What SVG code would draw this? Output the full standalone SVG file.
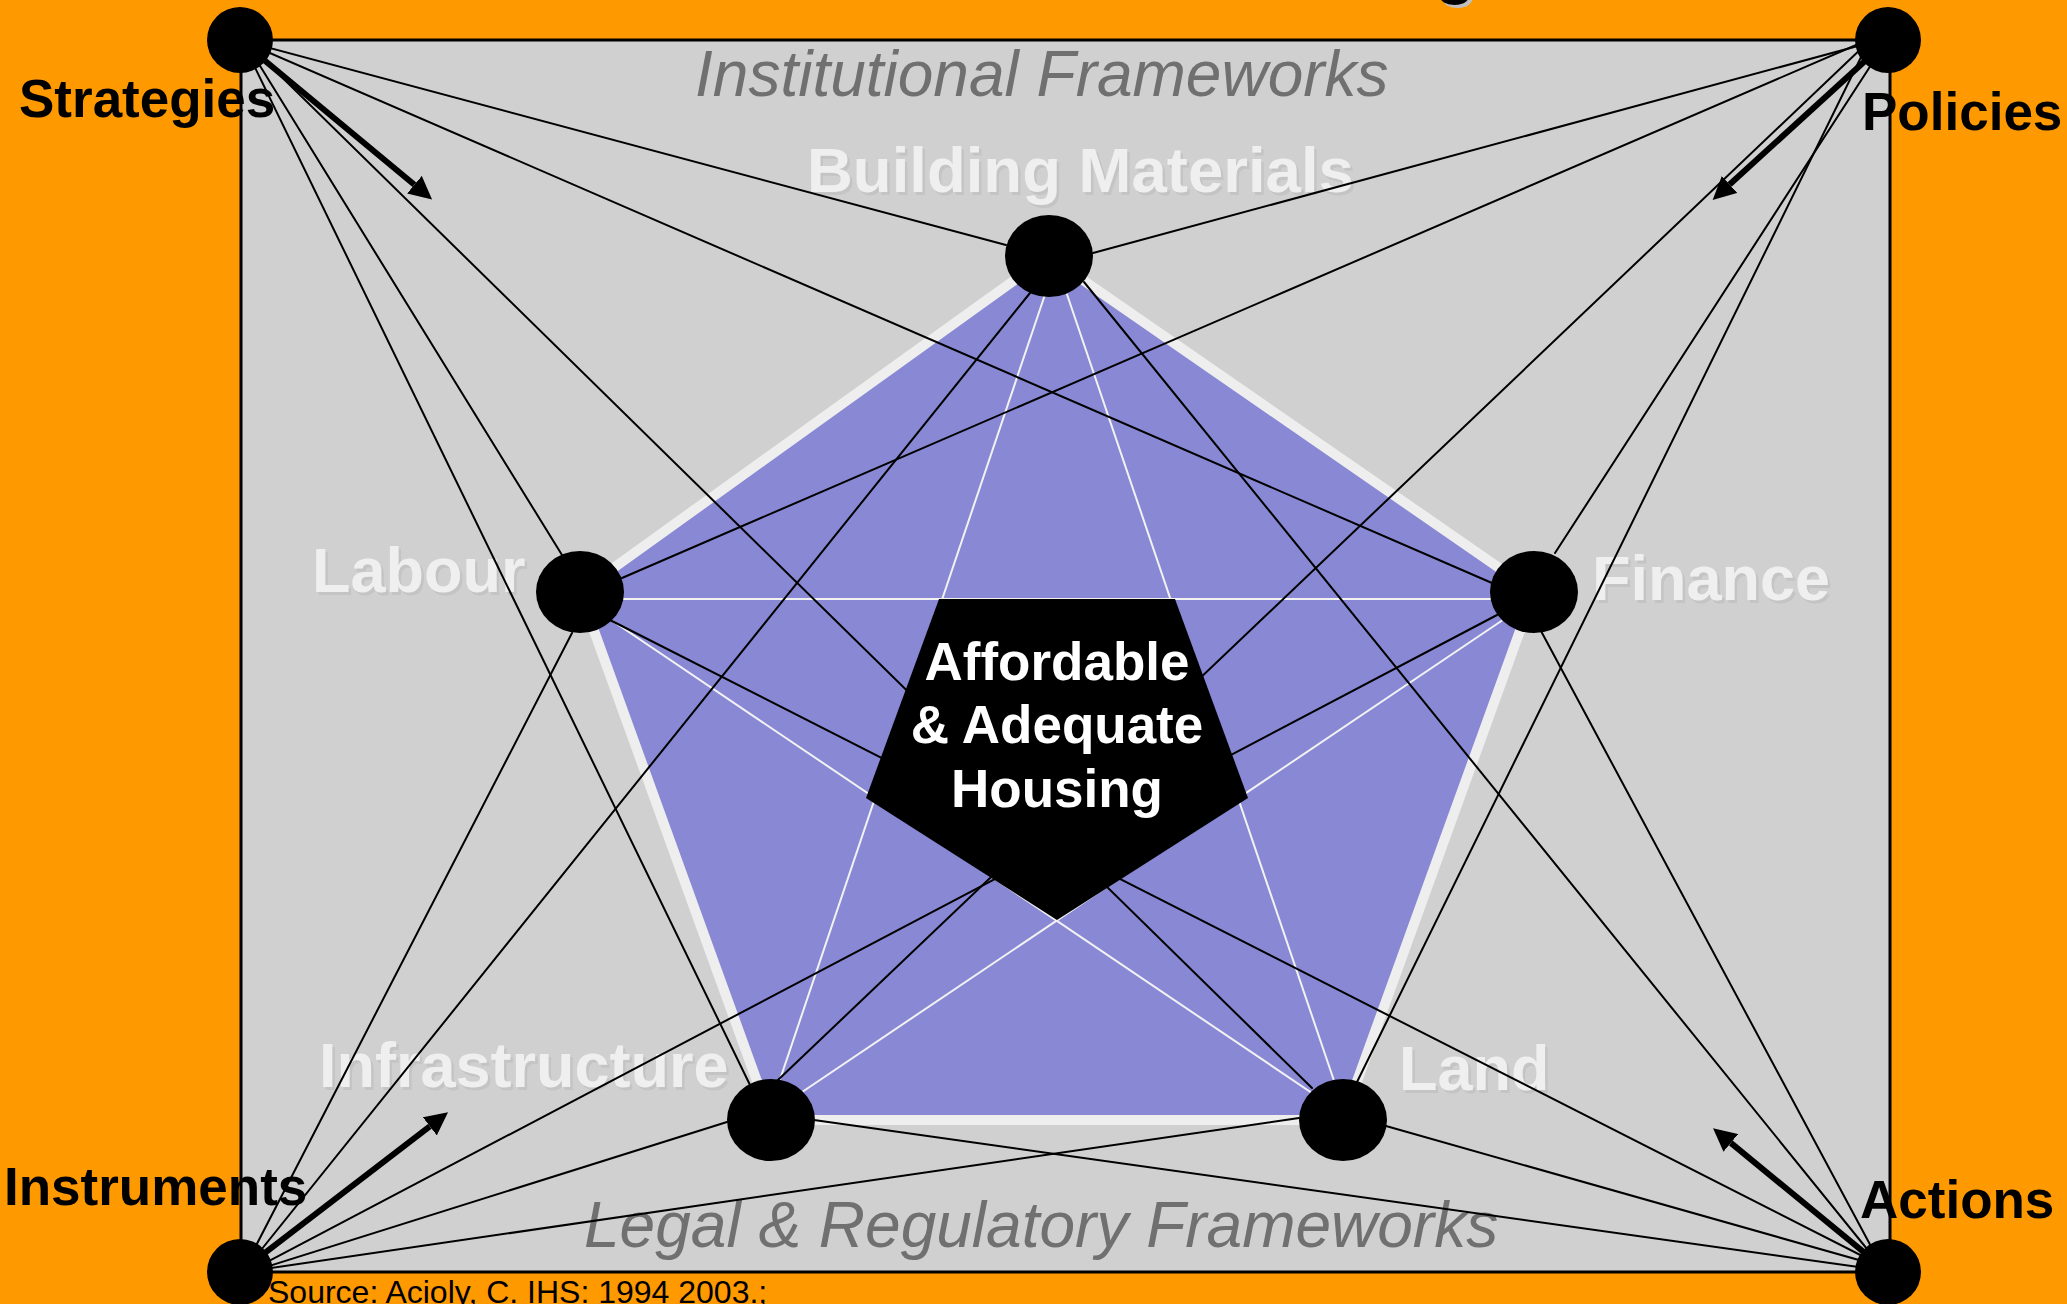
<svg xmlns="http://www.w3.org/2000/svg" width="2067" height="1304" viewBox="0 0 2067 1304">
<style>
.conn{stroke:#000;stroke-width:2;fill:none;stroke-linecap:round}
.arrow{stroke:#000;stroke-width:6;fill:none;marker-end:url(#ah)}
.star{stroke:#F2F2F2;stroke-width:2;fill:none}
.node{fill:#000}
.corner{font-family:"Liberation Sans",Arial,sans-serif;font-weight:bold;font-size:53px;fill:#000}
.plabel{font-family:"Liberation Sans",Arial,sans-serif;font-weight:bold;font-size:63px;fill:#EFEFEF}
.pshadow{font-family:"Liberation Sans",Arial,sans-serif;font-weight:bold;font-size:63px;fill:#C4C4C4}
.frame{font-family:"Liberation Sans",Arial,sans-serif;font-style:italic;font-size:64px;fill:#707070}
.center{font-family:"Liberation Sans",Arial,sans-serif;font-weight:bold;font-size:53px;fill:#FFF;text-anchor:middle}
.src{font-family:"Liberation Sans",Arial,sans-serif;font-size:32px;fill:#000}
</style>
<defs>
<marker id="ah" markerUnits="userSpaceOnUse" markerWidth="23" markerHeight="23" refX="0" refY="11.5" orient="auto">
<path d="M0,0 L23,11.5 L0,23 z" fill="#000"/>
</marker>
</defs>
<rect x="0" y="0" width="2067" height="1304" fill="#FF9900"/>
<g id="title-fragment">
<text x="1438" y="-6" class="corner" style="font-size:66px;fill:#C0C0C0">g</text>
<text x="1435" y="-9" class="corner" style="font-size:66px">g</text>
</g>
<rect id="frame" x="241" y="40" width="1649" height="1232" fill="#D0D0D0" stroke="#000" stroke-width="3"/>
<g id="pentagon">
<polygon points="1048,256 1534,592 1343,1120 771,1120 580,592" fill="#8888D4" stroke="#EEEEEE" stroke-width="10" stroke-linejoin="miter"/>
<line class="star" x1="580" y1="599" x2="1534" y2="599"/>
<line class="star" x1="1056" y1="262" x2="768" y2="1115"/>
<line class="star" x1="1056" y1="262" x2="1346" y2="1116"/>
<line class="star" x1="580" y1="599" x2="1346" y2="1116"/>
<line class="star" x1="1534" y1="599" x2="768" y2="1115"/>
</g>
<g id="labels">
<text class="pshadow" x="809.5" y="194.5" style="font-size:63.5px">Building Materials</text>
<text class="plabel" x="807" y="192" style="font-size:63.5px">Building Materials</text>
<text class="pshadow" x="314.5" y="594.5">Labour</text>
<text class="plabel" x="312" y="592">Labour</text>
<text class="pshadow" x="1594.5" y="602.5">Finance</text>
<text class="plabel" x="1592" y="600">Finance</text>
<text class="pshadow" x="321.5" y="1089.5">Infrastructure</text>
<text class="plabel" x="319" y="1087">Infrastructure</text>
<text class="pshadow" x="1401.5" y="1092.5">Land</text>
<text class="plabel" x="1399" y="1090">Land</text>
<text class="frame" x="695" y="96">Institutional Frameworks</text>
<text class="frame" x="584" y="1247">Legal &amp; Regulatory Frameworks</text>
</g>
<g id="core">
<polygon points="939,599 1175,599 1248,798 1057,920 866,798" fill="#000"/>
</g>
<g id="connectors">
<line class="conn" x1="240" y1="40" x2="1006" y2="245"/>
<line class="conn" x1="240" y1="40" x2="1492" y2="583"/>
<line class="conn" x1="250" y1="46" x2="1312" y2="1088"/>
<line class="conn" x1="244" y1="40" x2="562" y2="555"/>
<line class="conn" x1="244" y1="45" x2="750" y2="1085"/>
<line class="conn" x1="1880" y1="40" x2="1093" y2="253"/>
<line class="conn" x1="1870" y1="39" x2="622" y2="578"/>
<line class="conn" x1="1865" y1="45" x2="778" y2="1080"/>
<line class="conn" x1="1884" y1="45" x2="1555" y2="553"/>
<line class="conn" x1="1867" y1="45" x2="1357" y2="1082"/>
<line class="conn" x1="246" y1="1265" x2="572" y2="633"/>
<line class="conn" x1="249" y1="1265" x2="1030" y2="293"/>
<line class="conn" x1="250" y1="1272" x2="727" y2="1122"/>
<line class="conn" x1="250" y1="1271" x2="1299" y2="1118"/>
<line class="conn" x1="250" y1="1271" x2="1497" y2="615"/>
<line class="conn" x1="1881" y1="1265" x2="1541" y2="631"/>
<line class="conn" x1="1880" y1="1265" x2="610" y2="620"/>
<line class="conn" x1="1880" y1="1265" x2="1084" y2="282"/>
<line class="conn" x1="1880" y1="1266" x2="1386" y2="1126"/>
<line class="conn" x1="1880" y1="1270" x2="814" y2="1120"/>
<line class="arrow" x1="240" y1="40" x2="414.4" y2="184.7"/>
<line class="arrow" x1="1888" y1="40" x2="1729.6" y2="184.5"/>
<line class="arrow" x1="240" y1="1272" x2="429.8" y2="1126.3"/>
<line class="arrow" x1="1888" y1="1272" x2="1730.8" y2="1142.9"/>
</g>
<g id="node-building-materials"><ellipse class="node" cx="1049" cy="256" rx="44" ry="41"/></g>
<g id="node-labour"><ellipse class="node" cx="580" cy="592" rx="44" ry="41"/></g>
<g id="node-finance"><ellipse class="node" cx="1534" cy="592" rx="44" ry="41"/></g>
<g id="node-infrastructure"><ellipse class="node" cx="771" cy="1120" rx="44" ry="41"/></g>
<g id="node-land"><ellipse class="node" cx="1343" cy="1120" rx="44" ry="41"/></g>
<g id="node-strategies"><circle class="node" cx="240" cy="40" r="33"/><text class="corner" x="19" y="117">Strategies</text></g>
<g id="node-policies"><circle class="node" cx="1888" cy="40" r="33"/><text class="corner" x="1862" y="130">Policies</text></g>
<g id="node-instruments"><circle class="node" cx="240" cy="1272" r="33"/><text class="corner" x="4" y="1205">Instruments</text></g>
<g id="node-actions"><circle class="node" cx="1888" cy="1272" r="33"/><text class="corner" x="1860" y="1218">Actions</text></g>
<g id="node-housing">
<text class="center" x="1057" y="680">Affordable</text>
<text class="center" x="1057" y="743">&amp; Adequate</text>
<text class="center" x="1057" y="807">Housing</text>
</g>
<text class="src" x="268" y="1303">Source: Acioly, C. IHS: 1994 2003.;</text>
</svg>
